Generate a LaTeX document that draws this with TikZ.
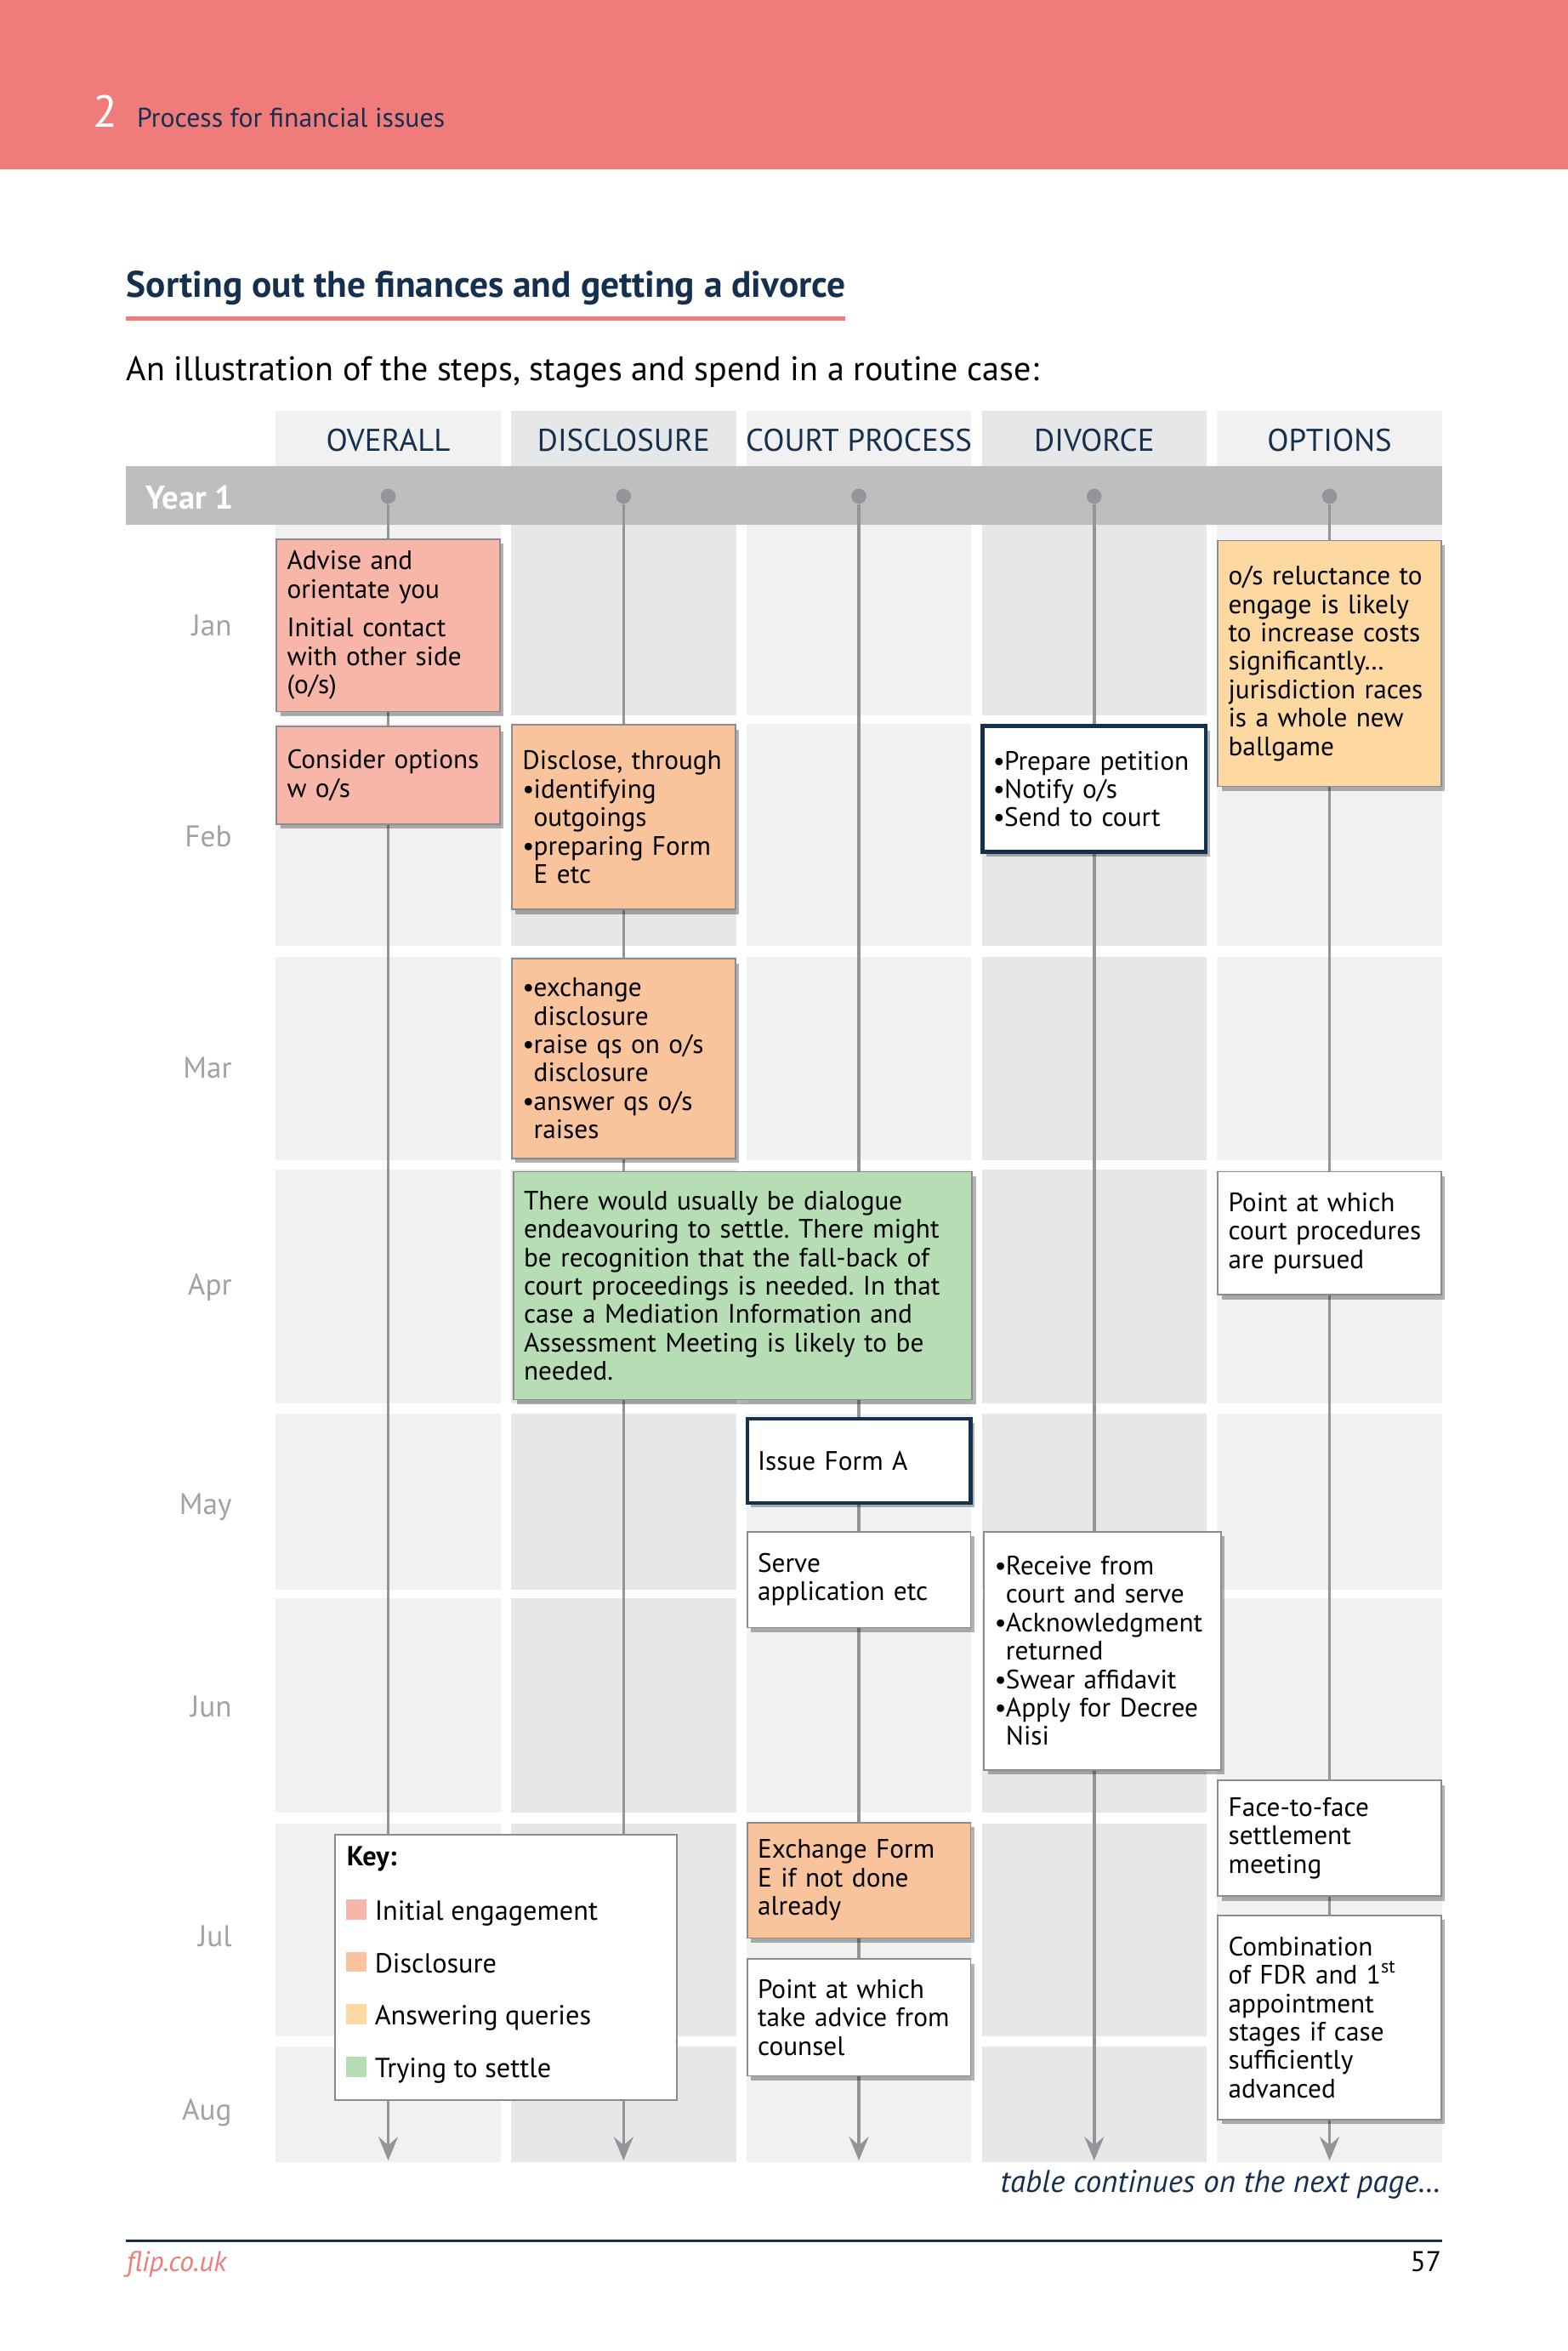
\documentclass[tikz,border=0pt]{standalone}
\usepackage{fontspec}
\setmainfont{PT Sans}
\usetikzlibrary{positioning,shadows,arrows.meta}

\definecolor{coral}{HTML}{EF7B7B}
\definecolor{navy}{HTML}{15304F}
\definecolor{barg}{HTML}{BCBEC0}
\definecolor{lineg}{HTML}{939598}
\definecolor{boxline}{HTML}{8A8C8F}
\definecolor{monthg}{HTML}{A0A2A5}
\definecolor{celllt}{HTML}{F1F1F2}
\definecolor{celldk}{HTML}{E6E7E8}
\definecolor{engage}{HTML}{F8B6A8}
\definecolor{disclose}{HTML}{F9C39B}
\definecolor{answer}{HTML}{FDD9A1}
\definecolor{settle}{HTML}{B7DDB4}

\newlength\pxu
\setlength\pxu{0.1762mm}
\newcommand\bul{\makebox[3.8pt][l]{\textbullet}}
\newcommand\ind{\hspace*{3.8pt}}
\frenchspacing

\pgfdeclarelayer{back}
\pgfdeclarelayer{lines}
\pgfsetlayers{back,lines,main}

\begin{document}
\begin{tikzpicture}[x=\pxu,y=-\pxu,
  stage/.style={draw=boxline,line width=0.5pt,align=left,anchor=north,inner xsep=7\pxu,inner ysep=0pt,
    text width=135\pxu,font=\fontsize{8.9}{9.5}\selectfont,
    drop shadow={shadow xshift=0.45mm,shadow yshift=-0.55mm,fill=black,opacity=0.3}},
  court/.style={stage,draw=navy,line width=1.2pt,fill=white},
  dot/.style={circle,fill=lineg,inner sep=0pt,minimum size=10\pxu},
  vline/.style={lineg,line width=1pt},
  tip/.style={-{Stealth[length=2.8mm,width=2.3mm,inset=1mm]}},
  colhead/.style={anchor=base,navy,font=\fontsize{10.5}{12}\selectfont,inner sep=0pt},
  month/.style={anchor=base east,monthg,font=\fontsize{10}{12}\selectfont,inner sep=0pt},
  keysq/.style={minimum size=13.5\pxu,inner sep=0pt},
  keylbl/.style={anchor=base west,inner sep=0pt,font=\fontsize{9.2}{11}\selectfont}]

\useasboundingbox (0,0) rectangle (1046,1568);

% page head
\fill[coral] (0,0) rectangle (1046,113);
\node[anchor=base west,white,inner sep=0pt,font=\fontsize{15}{15}\selectfont] (chap) at (62,85) {2};
\node[anchor=base west,navy,inner sep=0pt,font=\fontsize{9.05}{11}\selectfont] (chapname) at (91,85) {Process for financial issues};
\node[anchor=base west,navy,inner sep=0pt,font=\bfseries\fontsize{12.35}{14}\selectfont] (title) at (84,198) {Sorting out the finances and getting a divorce};
\fill[coral] (84,211) rectangle (564,214);
\node[anchor=base west,inner sep=0pt,font=\fontsize{11.4}{13}\selectfont] (intro) at (84,254) {An illustration of the steps, stages and spend in a routine case:};

% grid
\begin{pgfonlayer}{back}
\foreach \ya/\yb in {274/311,350/477,483/631,638/774,780/936,943/1060,1066/1209,1216/1358,1365/1442}
  \foreach \xa/\cc in {184/celllt,341/celldk,498/celllt,655/celldk,812/celllt}
    \fill[\cc] (\xa,\ya) rectangle (\xa+150,\yb);
\fill[barg] (84,311) rectangle (962,350);
\end{pgfonlayer}
\node[anchor=base west,white,inner sep=0pt,font=\bfseries\fontsize{11}{13}\selectfont] (year) at (97,339.5) {Year 1};

\foreach \c/\t [count=\i] in {259/OVERALL,416/DISCLOSURE,573/COURT PROCESS,730/DIVORCE,887/OPTIONS}
  \node[colhead] (head\i) at (\c,301) {\t};
\foreach \c/\n in {259/O,416/D,573/C,730/V,887/P} {
  \node[dot] (dot\n) at (\c,331) {};
  \coordinate (end\n) at (\c,1441);
}
\foreach \m/\yy in {Jan/424,Feb/565,Mar/719,Apr/863.5,May/1010,Jun/1145,Jul/1298,Aug/1414}
  \node[month] (m\m) at (155,\yy) {\m};

% overall
\node[stage,fill=engage,minimum height=115\pxu] (adv) at (259,359)
  {Advise and\\orientate you\\[1.2mm]Initial contact\\with other side\\(o/s)};
\node[stage,fill=engage,minimum height=65\pxu] (cons) at (259,484) {Consider options\\w o/s};

% disclosure
\node[stage,fill=disclose,minimum height=123\pxu] (discl) at (416,483)
  {Disclose, through\\\bul identifying\\\ind outgoings\\\bul preparing Form\\\ind E etc};
\node[stage,fill=disclose,minimum height=133\pxu] (exch) at (416,639)
  {\bul exchange\\\ind disclosure\\\bul raise qs on o/s\\\ind disclosure\\\bul answer qs o/s\\\ind raises};
\node[stage,fill=settle,anchor=north west,text width=292\pxu,minimum height=152\pxu] (settle) at (342,781)
  {There would usually be dialogue\\endeavouring to settle. There might\\be recognition that the fall-back of\\court proceedings is needed. In that\\case a Mediation Information and\\Assessment Meeting is likely to be\\needed.};

% court process
\node[court,minimum height=56\pxu] (issue) at (573,945) {Issue Form A};
\node[stage,fill=white,minimum height=64\pxu] (serve) at (573,1021) {Serve\\application etc};
\node[stage,fill=disclose,minimum height=77\pxu] (xform) at (573,1215) {Exchange Form\\E if not done\\already};
\node[stage,fill=white,minimum height=78\pxu] (counsel) at (573,1306) {Point at which\\take advice from\\counsel};

% divorce
\node[court,minimum height=84\pxu] (prep) at (730,483) {\bul Prepare petition\\\bul Notify o/s\\\bul Send to court};
\node[stage,fill=white,anchor=north west,text width=144\pxu,minimum height=159\pxu] (rcv) at (656,1021)
  {\bul Receive from\\\ind court and serve\\\bul Acknowledgment\\\ind returned\\\bul Swear affidavit\\\bul Apply for Decree\\\ind Nisi};

% options
\node[stage,fill=answer,minimum height=164\pxu] (reluct) at (887,360)
  {o/s reluctance to\\engage is likely\\to increase costs\\significantly…\\jurisdiction races\\is a whole new\\ballgame};
\node[stage,fill=white,minimum height=82\pxu] (pursue) at (887,781) {Point at which\\court procedures\\are pursued};
\node[stage,fill=white,minimum height=77\pxu] (face) at (887,1187) {Face-to-face\\settlement\\meeting};
\node[stage,fill=white,minimum height=136\pxu] (combo) at (887,1277)
  {Combination\\of FDR and 1\textsuperscript{st}\\appointment\\stages if case\\sufficiently\\advanced};

% timelines
\begin{pgfonlayer}{lines}
\draw[vline,tip] (dotO) -- (adv) -- (cons) -- (endO);
\draw[vline] (dotD) -- (discl) -- (exch) -- (exch |- settle.north);
\draw[vline,tip] (settle.south -| dotD) -- (endD);
\draw[vline] (dotC) -- (dotC |- settle.north);
\draw[vline,tip] (settle.south -| dotC) -- (issue) -- (serve) -- (xform) -- (counsel) -- (endC);
\draw[vline] (dotV) -- (prep) -- (prep |- rcv.north);
\draw[vline,tip] (rcv.south -| dotV) -- (endV);
\draw[vline,tip] (dotP) -- (reluct) -- (pursue) -- (face) -- (combo) -- (endP);
\end{pgfonlayer}

% key
\node[draw=boxline,fill=white,line width=0.5pt,anchor=north west,inner sep=0pt,
  minimum width=228\pxu,minimum height=177\pxu] (key) at (223,1223) {};
\node[anchor=base west,inner sep=0pt,font=\bfseries\fontsize{9.2}{11}\selectfont] (keyhead) at (231,1244.5) {Key:};
\foreach \f/\t/\yy [count=\i] in {engage/Initial engagement/1273.5,disclose/Disclosure/1308.5,answer/Answering queries/1343.5,settle/Trying to settle/1378.5} {
  \node[keysq,fill=\f] (ksq\i) at (237.5,\yy) {};
  \node[keylbl] (klbl\i) at ([xshift=5\pxu]ksq\i.south east) {\t};
}

% foot
\node[anchor=base east,navy,inner sep=0pt,font=\itshape\fontsize{10.5}{12}\selectfont] (cont) at (962,1462) {table continues on the next page…};
\draw[navy,line width=0.6pt] (84,1494.5) -- (962,1494.5);
\node[anchor=base west,coral,inner sep=0pt,font=\itshape\fontsize{9.5}{11}\selectfont] (site) at (84,1515) {flip.co.uk};
\node[anchor=base east,inner sep=0pt,font=\fontsize{9.5}{11}\selectfont] (page) at (962,1515) {57};
\end{tikzpicture}
\end{document}
